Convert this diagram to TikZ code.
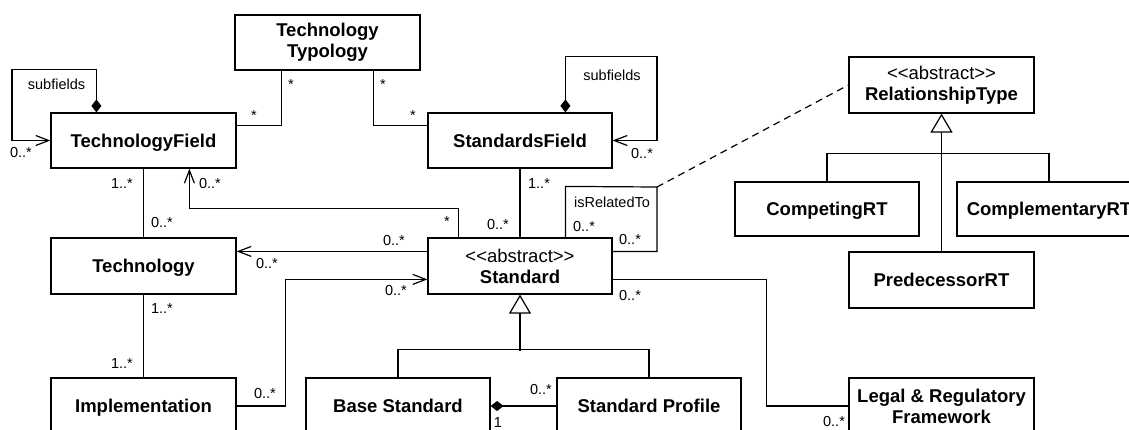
\documentclass[tikz,border=0pt]{standalone}
\usepackage{fontspec}
\setmainfont{Liberation Sans}
\usetikzlibrary{arrows.meta,calc}
\tikzset{
  cls/.style={draw, line width=1.2pt, minimum width=185pt, minimum height=55pt, inner sep=0pt, align=center, font=\fontsize{18.5}{21}\selectfont\bfseries},
  one/.style={text height=13.2pt, text depth=0pt},
  lbl/.style={font=\fontsize{14.5}{16}\selectfont, inner sep=0pt, text height=10.5pt, text depth=0pt},
  conn/.style={line width=1.2pt},
  nav/.style={conn, -{Straight Barb[length=13pt,width=10pt]}},
  compo/.style={conn, {Diamond[length=13pt,width=10pt]}-},
  loopy/.style={conn, {Diamond[length=13pt,width=10pt]}-{Straight Barb[length=13pt,width=10pt]}},
  gen/.style={conn, -{Triangle[open,length=19pt,width=22pt,fill=white]}},
  dsh/.style={conn, dash pattern=on 7pt off 5pt},
}
\newcommand{\stereo}{{\mdseries <\kern0pt<\kern0pt abstract\kern0pt>\kern0pt>}}
\begin{document}
\begin{tikzpicture}[x=1pt,y=-1pt]
\useasboundingbox (0,0) rectangle (1129,429);
\fill[white] (0,0) rectangle (1129,429);
\clip (0,0) rectangle (1129,429);

% classes
\node[cls] (typ) at (327.5,42.5) {Technology\\Typology};
\node[cls,one] (tf) at (143.5,140.5) {TechnologyField};
\node[cls,one,minimum width=184pt] (sf) at (520,140.5) {StandardsField};
\node[cls,minimum height=56pt,minimum width=184pt] (std) at (520,266) {\stereo\\Standard};
\node[cls,one,minimum height=56pt] (tech) at (143.5,266) {Technology};
\node[cls,one,minimum height=56pt] (impl) at (143.5,406) {Implementation};
\node[cls,one,minimum height=56pt,minimum width=184pt] (base) at (398,406) {Base Standard};
\node[cls,one,minimum height=56pt,minimum width=184pt] (prof) at (649,406) {Standard Profile};
\node[cls,minimum height=56pt] (legal) at (941.5,406) {Legal \& Regulatory\\Framework};
\node[cls,minimum height=56pt] (rt) at (941.5,85) {\stereo\\RelationshipType};
\node[cls,one,minimum height=54pt,minimum width=184pt] (comp) at (827,209) {CompetingRT};
\node[cls,one,minimum height=54pt,minimum width=184pt] (compl) at (1049,209) {ComplementaryRT};
\node[cls,one,minimum height=56pt] (pred) at (941.5,280) {PredecessorRT};

\coordinate (relc) at (657,187);

% self loops
\draw[loopy] ($(tf.north west)+(46,0)$) -- ++(0,-43) -| (12,140.5) -- (tf.west);
\node[lbl] (l1) at (56.5,84) {subfields};
\node[lbl] (l2) at (21,152.5) {0..*};

\draw[loopy] ($(sf.north west)+(138,0)$) -- ++(0,-56) -| (657,140.5) -- (sf.east);
\node[lbl] (l3) at (612,75) {subfields};
\node[lbl] (l4) at (642,153) {0..*};

% typology
\draw[conn] ($(typ.south west)+(47,0)$) |- ($(tf.north east)+(0,13)$);
\node[lbl] (l5) at (291,84) {*};
\node[lbl] (l6) at (254,115) {*};
\draw[conn] ($(typ.south west)+(139,0)$) |- ($(sf.north west)+(0,13)$);
\node[lbl] (l7) at (383,84) {*};
\node[lbl] (l8) at (413,115) {*};

% standards field - standard
\draw[conn] (sf.south) -- (std.north);
\node[lbl] (l9) at (539,183) {1..*};
\node[lbl] (l10) at (498,224) {0..*};

% isRelatedTo
\draw[conn] ($(std.north west)+(138,0)$) -- ++(0,-51) -- (relc) |- ($(std.north east)+(0,14)$);
\node[lbl] (l11) at (612,202) {isRelatedTo};
\node[lbl] (l12) at (584,226) {0..*};
\node[lbl] (l13) at (630,239) {0..*};
\draw[dsh] (relc) -- (rt.west);

% relationship types
\draw[gen] (pred.north) -- (rt.south);
\draw[conn] (comp.north) -- ++(0,-28) -| (compl.north);

% standard generalization
\draw[gen] ($(std.south)+(0,56)$) -- (std.south);
\draw[conn] (base.north) -- ++(0,-28) -| (prof.north);

% composition
\draw[compo] (base.east) -- (prof.west);
\node[lbl] (l14) at (541,389) {0..*};
\node[lbl] (l15) at (498,422) {1};

% standard - legal
\draw[conn] ($(std.north east)+(0,42)$) -- ++(154,0) |- (legal.west);
\node[lbl] (l16) at (630,295) {0..*};
\node[lbl] (l17) at (834,421) {0..*};

% standard -> technology
\draw[nav] ($(std.north west)+(0,14)$) -- ($(tech.north east)+(0,14)$);
\node[lbl] (l18) at (394,240) {0..*};
\node[lbl] (l19) at (267,263) {0..*};

% standard -> technology field
\draw[nav] ($(std.north west)+(31,0)$) -- ++(0,-29) -| ($(tf.south west)+(139,0)$);
\node[lbl] (l20) at (447,221) {*};
\node[lbl] (l21) at (210,183) {0..*};

% technology field - technology
\draw[conn] (tf.south) -- (tech.north);
\node[lbl] (l22) at (122,183) {1..*};
\node[lbl] (l23) at (162,222) {0..*};

% technology - implementation
\draw[conn] (tech.south) -- (impl.north);
\node[lbl] (l24) at (162,308) {1..*};
\node[lbl] (l25) at (122,363) {1..*};

% implementation -> standard
\draw[nav] (impl.east) -- ++(49,0) |- ($(std.north west)+(0,42)$);
\node[lbl] (l26) at (265,393) {0..*};
\node[lbl] (l27) at (396,290) {0..*};
\end{tikzpicture}
\end{document}
